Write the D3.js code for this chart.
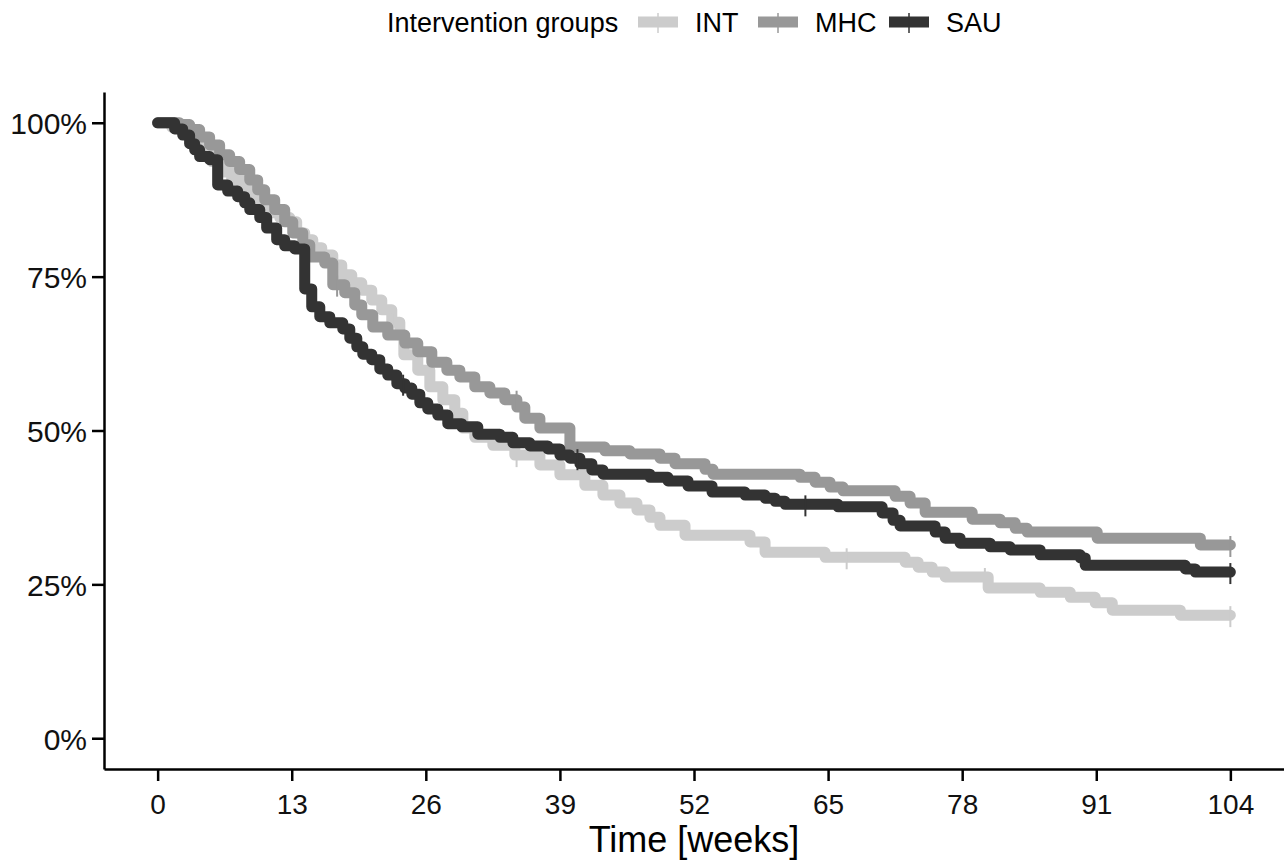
<!DOCTYPE html>
<html>
<head>
<meta charset="utf-8">
<script src="https://cdn.jsdelivr.net/npm/d3@7"></script>
<style>
  html, body { margin: 0; padding: 0; background: #ffffff; }
  svg { display: block; font-family: "Liberation Sans", Arial, sans-serif; }
</style>
</head>
<body>
<div id="chart"></div>
<script>
// Survival curves (time in weeks, survival proportion)
const groups = ["INT", "MHC", "SAU"];
const groupColors = ["#cccccc", "#989898", "#333333"];

const intTimes = [0, 1.36, 2.62, 3.59, 4.56, 5.24, 6.21, 7.18, 8.15, 8.93, 9.9, 10.87, 11.84, 12.81, 13.48, 14.26, 15.04, 15.91, 16.98, 17.85, 18.82, 19.79, 20.76, 21.73, 22.7, 23.48, 23.87, 25.22, 26.39, 27.65, 28.81, 29.59, 30.75, 32.5, 34.63, 37.06, 39.0, 41.42, 43.17, 44.82, 46.47, 47.73, 48.7, 51.13, 57.43, 58.89, 64.71, 72.47, 73.73, 75.09, 76.35, 80.52, 85.56, 88.48, 90.9, 92.55, 99.15, 104];
const intSurv = [1.0, 0.993, 0.985, 0.972, 0.956, 0.937, 0.92, 0.907, 0.891, 0.875, 0.863, 0.854, 0.846, 0.839, 0.821, 0.81, 0.797, 0.785, 0.769, 0.753, 0.74, 0.728, 0.712, 0.696, 0.676, 0.655, 0.623, 0.598, 0.571, 0.55, 0.528, 0.504, 0.489, 0.476, 0.46, 0.444, 0.428, 0.411, 0.395, 0.382, 0.371, 0.359, 0.346, 0.33, 0.319, 0.302, 0.294, 0.286, 0.278, 0.27, 0.262, 0.244, 0.237, 0.229, 0.22, 0.208, 0.2, 0.2];

const mhcTimes = [0, 2.13, 3.1, 4.07, 5.04, 6.01, 6.98, 7.95, 8.93, 9.7, 10.38, 11.35, 12.32, 13.1, 14.07, 14.75, 16.2, 16.98, 18.14, 19.11, 19.79, 20.86, 22.31, 23.96, 25.22, 26.58, 28.04, 29.3, 30.75, 32.21, 33.66, 34.83, 35.6, 37.06, 39.97, 43.36, 45.79, 48.7, 50.16, 53.07, 53.84, 62.28, 63.74, 65.19, 66.45, 71.5, 72.95, 74.41, 78.97, 81.68, 83.14, 84.3, 91.09, 101.09, 104];
const mhcSurv = [1.0, 0.997, 0.989, 0.977, 0.964, 0.948, 0.937, 0.924, 0.907, 0.891, 0.875, 0.859, 0.839, 0.821, 0.802, 0.782, 0.772, 0.737, 0.724, 0.704, 0.688, 0.668, 0.655, 0.642, 0.628, 0.611, 0.598, 0.587, 0.571, 0.561, 0.55, 0.538, 0.52, 0.504, 0.473, 0.467, 0.462, 0.455, 0.446, 0.437, 0.429, 0.424, 0.416, 0.408, 0.402, 0.393, 0.382, 0.367, 0.356, 0.35, 0.341, 0.335, 0.325, 0.314, 0.314];

const sauTimes = [0, 1.65, 2.43, 3.1, 3.59, 4.07, 5.04, 5.82, 6.79, 7.76, 8.44, 8.93, 9.9, 10.57, 11.54, 12.32, 13.29, 14.26, 14.94, 15.72, 16.69, 17.95, 18.63, 19.31, 19.89, 20.76, 21.54, 22.31, 23.19, 23.96, 24.64, 25.42, 26.19, 27.16, 28.13, 29.49, 31.04, 33.18, 34.44, 36.09, 37.83, 39.0, 39.97, 40.94, 42.1, 43.17, 47.73, 49.48, 51.42, 53.75, 56.95, 58.89, 59.86, 60.83, 65.97, 70.24, 71.3, 71.98, 75.38, 76.35, 77.8, 80.71, 82.65, 85.56, 89.45, 89.93, 99.63, 100.6, 104];
const sauSurv = [1.0, 0.99, 0.98, 0.966, 0.956, 0.945, 0.94, 0.899, 0.889, 0.88, 0.87, 0.859, 0.846, 0.829, 0.81, 0.8, 0.795, 0.73, 0.701, 0.685, 0.675, 0.665, 0.65, 0.636, 0.624, 0.615, 0.6, 0.59, 0.576, 0.569, 0.559, 0.545, 0.535, 0.525, 0.511, 0.506, 0.494, 0.489, 0.48, 0.475, 0.47, 0.46, 0.455, 0.446, 0.436, 0.429, 0.424, 0.418, 0.41, 0.4, 0.395, 0.39, 0.385, 0.38, 0.376, 0.366, 0.354, 0.345, 0.335, 0.325, 0.317, 0.311, 0.306, 0.298, 0.293, 0.281, 0.275, 0.27, 0.27];

// censored observations (weeks)
const intCensor = [22.8, 34.8, 66.8, 80.2, 104];
const mhcCensor = [17.4, 34.8, 104];
const sauCensor = [23.8, 40.7, 62.8, 104];

const xTicks = [0, 13, 26, 39, 52, 65, 78, 91, 104];
const yTicks = [0, 0.25, 0.5, 0.75, 1];
const legendTitle = "Intervention groups";
const xTitle = "Time [weeks]";

const width = 1284;
const height = 860;
const panel = { left: 104, right: 1284, top: 92, bottom: 769 };

const svg = d3
  .select("#chart")
  .append("svg")
  .attr("width", width)
  .attr("height", height);

// ggplot-like 5% expansion on both axes
const x = d3.scaleLinear().domain([-5.2, 109.2]).range([panel.left, panel.right]);
const y = d3.scaleLinear().domain([-0.05, 1.05]).range([panel.bottom, panel.top]);

const series = [
  { name: groups[0], color: groupColors[0], times: intTimes, surv: intSurv, censor: intCensor },
  { name: groups[1], color: groupColors[1], times: mhcTimes, surv: mhcSurv, censor: mhcCensor },
  { name: groups[2], color: groupColors[2], times: sauTimes, surv: sauSurv, censor: sauCensor }
];

// survival at time t (step function)
function survAt(s, t) {
  let v = s.surv[0];
  for (let i = 0; i < s.times.length; i++) {
    if (s.times[i] <= t) v = s.surv[i];
  }
  return v;
}

const line = d3
  .line()
  .x((d) => x(d[0]))
  .y((d) => y(d[1]))
  .curve(d3.curveStepAfter);

const g = svg.append("g");

series.forEach((s) => {
  const pts = s.times.map((t, i) => [t, s.surv[i]]);
  g.append("path")
    .datum(pts)
    .attr("d", line)
    .attr("fill", "none")
    .attr("stroke", s.color)
    .attr("stroke-width", 11)
    .attr("stroke-linejoin", "round")
    .attr("stroke-linecap", "round");

  g.selectAll(null)
    .data(s.censor)
    .enter()
    .append("line")
    .attr("x1", (d) => x(d))
    .attr("x2", (d) => x(d))
    .attr("y1", (d) => y(survAt(s, d)) - 9)
    .attr("y2", (d) => y(survAt(s, d)) + 12)
    .attr("stroke", s.color)
    .attr("stroke-width", 2);
});

// axes
const xAxis = svg
  .append("g")
  .attr("transform", `translate(0,${panel.bottom})`)
  .call(d3.axisBottom(x).tickValues(xTicks).tickSize(12).tickPadding(6).tickSizeOuter(0));

const yAxis = svg
  .append("g")
  .attr("transform", `translate(${panel.left},0)`)
  .call(
    d3.axisLeft(y)
      .tickValues(yTicks)
      .tickFormat((d) => Math.round(d * 100) + "%")
      .tickSize(12)
      .tickPadding(5)
      .tickSizeOuter(0)
  );

[xAxis, yAxis].forEach((a) => {
  a.select(".domain").attr("stroke", "#000").attr("stroke-width", 2.5);
  a.selectAll(".tick line").attr("stroke", "#000").attr("stroke-width", 2.5);
  a.selectAll(".tick text")
    .attr("fill", "#111")
    .style("font-family", "'Liberation Sans', Arial, sans-serif");
});
xAxis.selectAll(".tick text").style("font-size", "28px").attr("dy", "0.95em");
yAxis.selectAll(".tick text").style("font-size", "30px").attr("dy", "0.36em");

// x axis title
svg.append("text")
  .attr("x", (panel.left + panel.right) / 2)
  .attr("y", 852)
  .attr("text-anchor", "middle")
  .style("font-size", "36px")
  .attr("fill", "#000")
  .text(xTitle);

// legend
const legend = svg.append("g");
legend.append("text")
  .attr("x", 387)
  .attr("y", 32)
  .style("font-size", "27px")
  .attr("fill", "#000")
  .text(legendTitle);

const keyX = [637, 757, 888];
series.forEach((s, i) => {
  const k = legend.append("g").attr("transform", `translate(${keyX[i]},22)`);
  k.append("line")
    .attr("x1", 1).attr("x2", 41)
    .attr("y1", 0).attr("y2", 0)
    .attr("stroke", s.color)
    .attr("stroke-width", 11);
  k.append("line")
    .attr("x1", 21).attr("x2", 21)
    .attr("y1", -9).attr("y2", 11)
    .attr("stroke", s.color)
    .attr("stroke-width", 1.5);
  k.append("text")
    .attr("x", 58)
    .attr("y", 10)
    .style("font-size", "27px")
    .attr("fill", "#000")
    .text(s.name);
});
</script>
</body>
</html>
